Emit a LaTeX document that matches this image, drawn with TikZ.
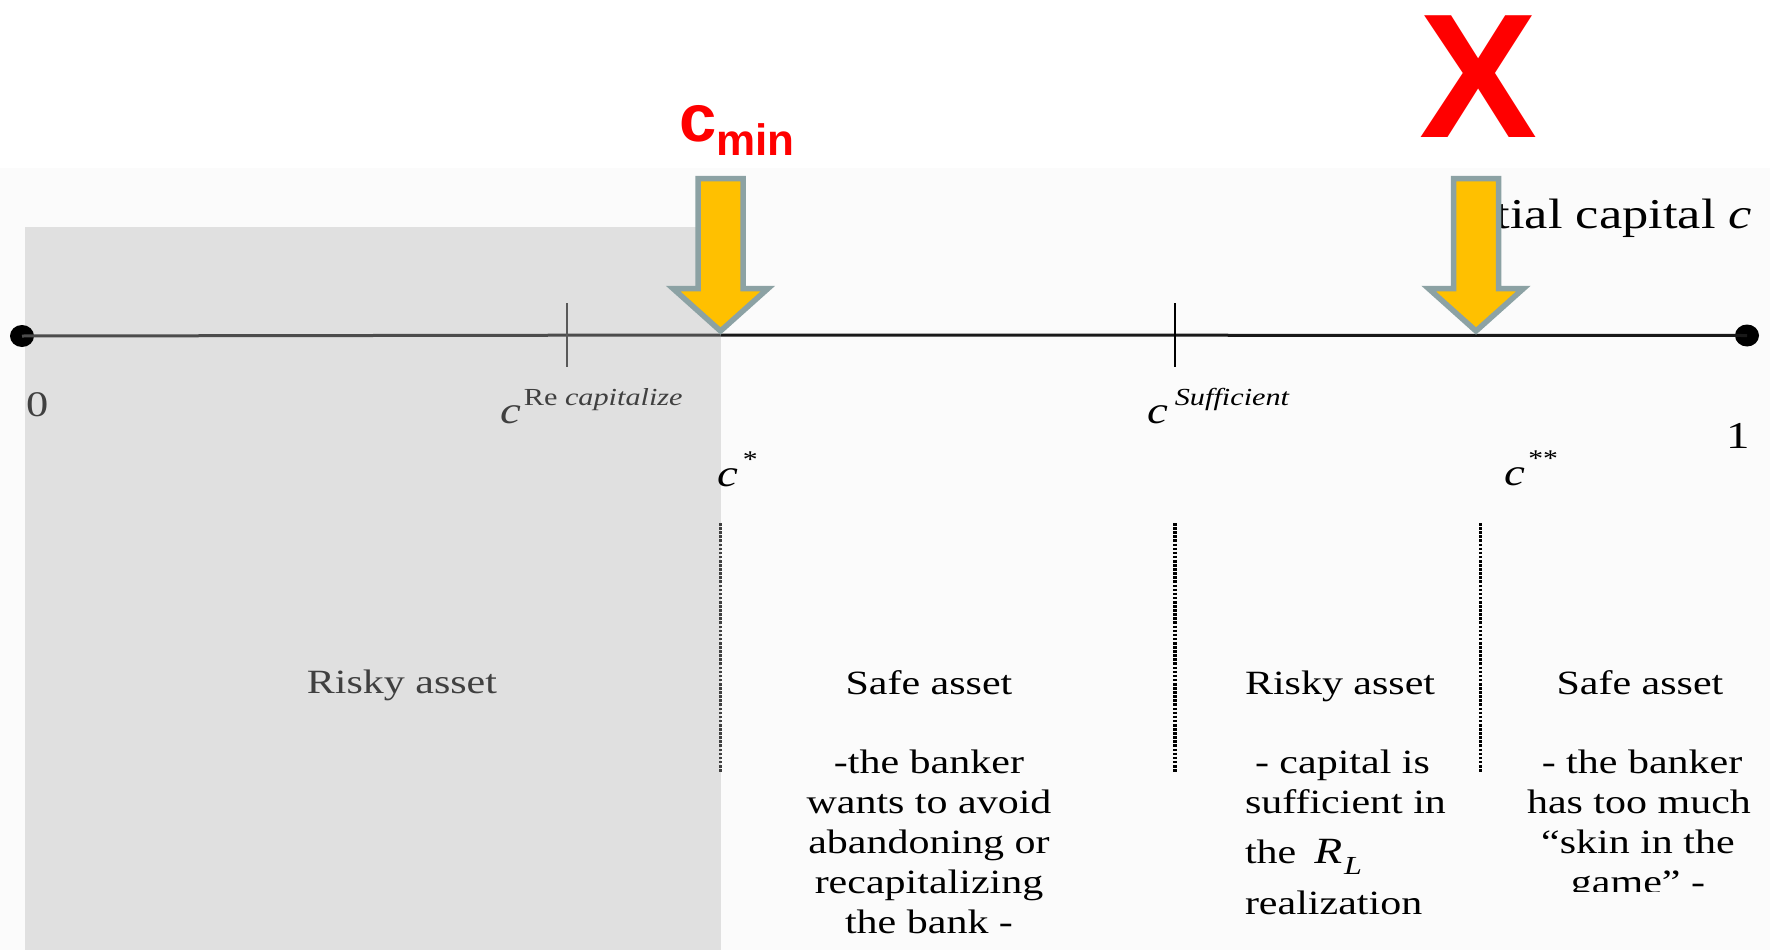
\documentclass[tikz,border=0pt]{standalone}
\usepackage{fontspec}
\usetikzlibrary{shapes.geometric}
\setmainfont{Liberation Serif}[FakeStretch=1.235]
\newfontfamily\arialfont{Liberation Sans}
\newcommand\bodyfs{\fontsize{34}{40}\selectfont}
\definecolor{shadegray}{RGB}{224,224,224}
\definecolor{offwhite}{RGB}{251,251,251}
\definecolor{arrowfill}{RGB}{255,192,0}
\definecolor{arrowedge}{RGB}{140,162,164}
\definecolor{pptred}{RGB}{255,0,0}
\definecolor{darkgraytext}{RGB}{64,64,64}
\begin{document}
\begin{tikzpicture}[x=1pt,y=-1pt,
  txt/.style={inner sep=0pt, outer sep=0pt, font=\bodyfs},
  dotmark/.style={ellipse, fill=black, inner sep=0pt, minimum width=24pt, minimum height=22pt},
  tickmark/.style={line width=2.3pt},
  dottedline/.style={line width=3.2pt, dash pattern=on 2.6pt off 1.5pt},
  blockarrow/.style={fill=arrowfill, draw=arrowedge, line width=5.5pt, miter limit=10}
]
\useasboundingbox (0,0) rectangle (1770,950);
% backgrounds
\fill[white] (0,0) rectangle (1770,950);
\fill[offwhite] (0,168) rectangle (1770,950);
\fill[shadegray] (25,227) rectangle (720.5,950);

% dotted separators
\coordinate (s1a) at (720.5,523); \coordinate (s1b) at (720.5,772);
\coordinate (s2a) at (1175,523);  \coordinate (s2b) at (1175,772);
\coordinate (s3a) at (1480.5,523); \coordinate (s3b) at (1480.5,772);
\draw[dottedline, black!75] (s1a) -- (s1b);
\draw[dottedline] (s2a) -- (s2b);
\draw[dottedline] (s3a) -- (s3b);

% axis
\node[dotmark] (d0) at (22,336) {};
\node[dotmark] (d1) at (1747,335.5) {};
\coordinate (cmin) at (720.5,335);
\draw[line width=3pt, black!70] (d0.center) -- (cmin);
\draw[line width=3pt, black!90] (cmin) -- (d1.center);

% ticks
\coordinate (t1a) at (567,303); \coordinate (t1b) at (567,367);
\coordinate (t2a) at (1175,303); \coordinate (t2b) at (1175,367);
\draw[tickmark, black!65] (t1a) -- (t1b);
\draw[tickmark] (t2a) -- (t2b);

% axis labels
\node[txt, anchor=base west, font=\fontsize{36}{36}\selectfont, text=darkgraytext] (zero) at (26,416) {0};
\node[txt, anchor=base west, font=\fontsize{38}{38}\selectfont] (one) at (1726,448) {1};
\node[txt, anchor=base west, text=darkgraytext] (crecap) at (500,423)
  {{\fontsize{38}{38}\selectfont\itshape c}\hspace{3pt}\raisebox{17.5pt}{\fontsize{24.5}{24.5}\selectfont Re\ \itshape capitalize}};
\node[txt, anchor=base west] (csuff) at (1147,423)
  {{\fontsize{38}{38}\selectfont\itshape c}\hspace{7pt}\raisebox{17.5pt}{\fontsize{24.5}{24.5}\selectfont\itshape Sufficient}};
\node[txt, anchor=base west] (cstar) at (717,486)
  {{\fontsize{38}{38}\selectfont\itshape c}\hspace{5pt}\raisebox{18.4pt}{\fontsize{24}{24}\selectfont *}};
\node[txt, anchor=base west] (cstarstar) at (1504,485)
  {{\fontsize{38}{38}\selectfont\itshape c}\hspace{3.5pt}\raisebox{18.4pt}{\fontsize{24}{24}\selectfont **}};

% initial capital label (left part hidden behind the arrow)
\begin{scope}
  \clip (1452,150) rectangle (1770,260);
  \node[txt, anchor=base east, font=\fontsize{42.5}{42.5}\selectfont] (initcap) at (1752,228) {Initial capital \textit{c}};
\end{scope}

% column 1
\node[txt, anchor=base, text=darkgraytext] (r1) at (402,693) {Risky asset};

% column 2
\node[txt, anchor=base] (s1) at (929,694) {Safe asset};
\node[txt, anchor=base] (s1l1) at (929,773) {-the banker};
\node[txt, anchor=base] (s1l2) at (929,813) {wants to avoid};
\node[txt, anchor=base] (s1l3) at (929,853) {abandoning or};
\node[txt, anchor=base] (s1l4) at (929,893) {recapitalizing};
\node[txt, anchor=base] (s1l5) at (929,933) {the bank -};

% column 3
\node[txt, anchor=base west] (r2) at (1245,694) {Risky asset};
\node[txt, anchor=base west] (r2l1) at (1255,773) {- capital is};
\node[txt, anchor=base west] (r2l2) at (1245,813) {sufficient in};
\node[txt, anchor=base west] (r2l3) at (1245,863)
  {the\hspace{18pt}{\fontsize{37}{37}\selectfont\itshape R}\hspace{2pt}\raisebox{-11pt}{\fontsize{26}{26}\selectfont\itshape L}};
\node[txt, anchor=base west] (r2l4) at (1245,914) {realization};

% column 4
\node[txt, anchor=base] (s2) at (1640,694) {Safe asset};
\node[txt, anchor=base] (s2l1) at (1642,773) {- the banker};
\node[txt, anchor=base] (s2l2) at (1639,813) {has too much};
\node[txt, anchor=base] (s2l3) at (1638,853) {“skin in the};
\begin{scope}
  \clip (1500,820) rectangle (1770,891.5);
  \node[txt, anchor=base] (s2l4) at (1638,893.5) {game” -};
\end{scope}

% block arrows
\draw[blockarrow] (698,178.5) -- (743,178.5) -- (743,288.5) -- (768,288.5)
  -- (720.5,331) -- (673,288.5) -- (698,288.5) -- cycle;
\draw[blockarrow] (1453.5,178.5) -- (1498.5,178.5) -- (1498.5,288.5) -- (1523.5,288.5)
  -- (1476,331) -- (1428.5,288.5) -- (1453.5,288.5) -- cycle;

% red labels
\node[inner sep=0pt, anchor=base, text=pptred, font=\arialfont\bfseries\fontsize{177}{177}\selectfont] (xmark) at (1478.5,137) {X};
\node[inner sep=0pt, anchor=base west, text=pptred, font=\arialfont\bfseries\fontsize{67}{67}\selectfont] (cminlabel) at (679,141)
  {c\raisebox{-14.7pt}{\fontsize{44}{44}\selectfont min}};
\end{tikzpicture}
\end{document}
